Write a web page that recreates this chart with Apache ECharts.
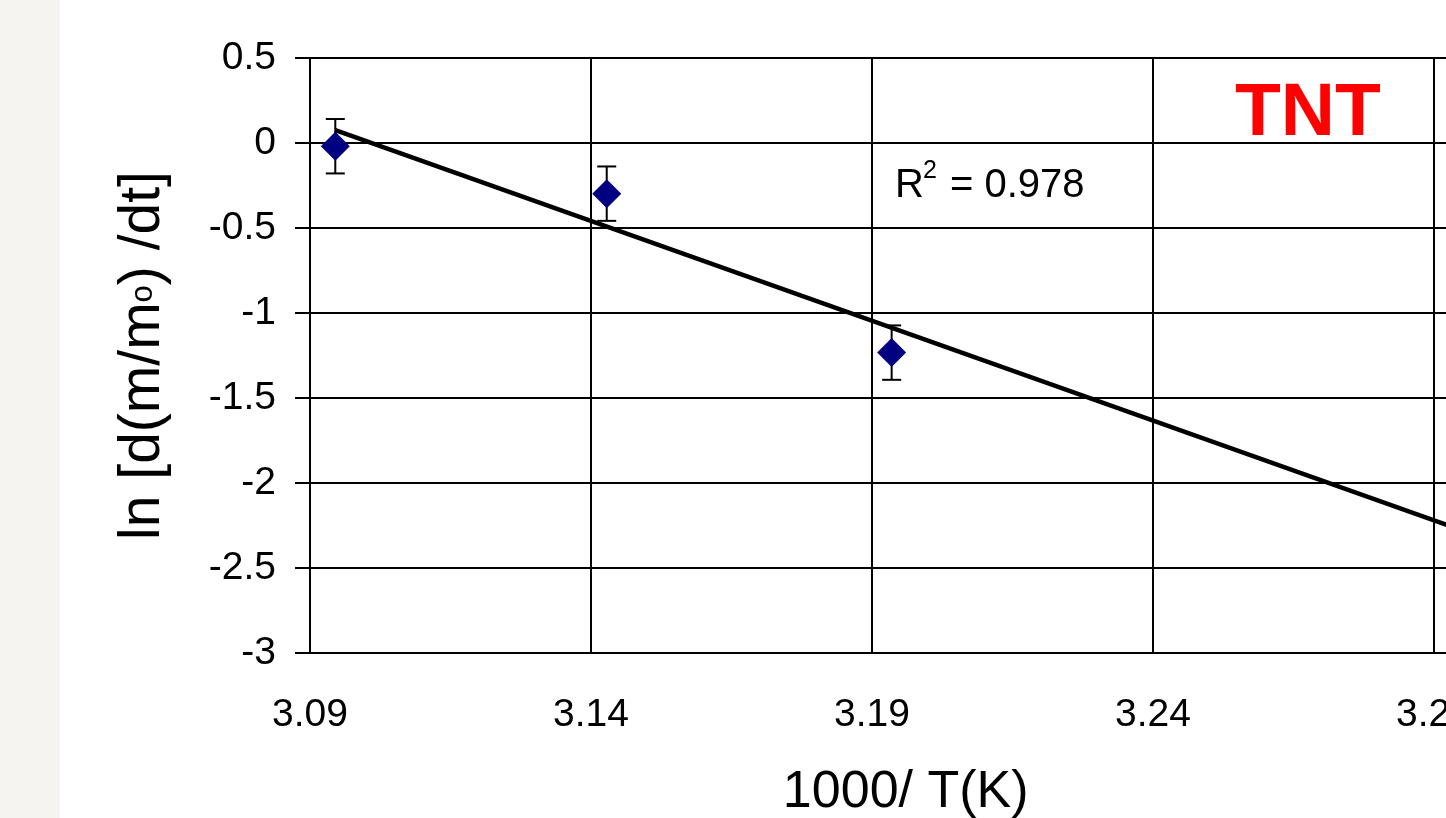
<!DOCTYPE html>
<html>
<head>
<meta charset="utf-8">
<script src="https://cdn.jsdelivr.net/npm/echarts@6/dist/echarts.min.js"></script>
<style>
  html, body { margin: 0; padding: 0; background: #ffffff; }
  #chart { width: 1446px; height: 818px; }
</style>
</head>
<body>
<div id="chart"></div>
<script>
// ---- data ----
const xVals = [3.0945, 3.1428, 3.1935];      // 1000/T(K)
const yVals = [-0.019, -0.298, -1.233];      // ln[d(m/mo)/dt]
const errVals = [0.16, 0.16, 0.16];          // error bar half-heights
const trendX = [3.0945, 3.302];              // linear trend line end points
const trendY = [0.076, -2.360];
const rSquaredText = '0.978';
const chartLabel = 'TNT';

const FONT = "'Liberation Sans', Arial, sans-serif";

const pointData = xVals.map((x, i) => [x, yVals[i]]);
const errData = xVals.map((x, i) => [x, yVals[i] - errVals[i], yVals[i] + errVals[i]]);
const trendData = trendX.map((x, i) => [x, trendY[i]]);

const chart = echarts.init(document.getElementById('chart'), null, { renderer: 'canvas' });

function renderErr(params, api) {
  const x = api.value(0);
  const pLo = api.coord([x, api.value(1)]);
  const pHi = api.coord([x, api.value(2)]);
  const hw = 9.5;
  const st = { stroke: '#000', lineWidth: 2 };
  return {
    type: 'group',
    children: [
      { type: 'line', shape: { x1: pLo[0], y1: pLo[1], x2: pHi[0], y2: pHi[1] }, style: st },
      { type: 'line', shape: { x1: pLo[0] - hw, y1: pLo[1], x2: pLo[0] + hw, y2: pLo[1] }, style: st },
      { type: 'line', shape: { x1: pHi[0] - hw, y1: pHi[1], x2: pHi[0] + hw, y2: pHi[1] }, style: st }
    ]
  };
}

const option = {
  animation: false,
  backgroundColor: '#ffffff',
  textStyle: { fontFamily: FONT },
  grid: { left: 310, top: 58, width: 1191.4, height: 595, containLabel: false, outerBoundsMode: 'none' },
  xAxis: {
    type: 'value',
    min: 3.09,
    max: 3.302,
    interval: 0.05,
    name: '1000/ T(K)',
    nameLocation: 'middle',
    nameGap: 114,
    nameTextStyle: { fontSize: 52, color: '#000', fontFamily: FONT },
    axisLine: { show: true, lineStyle: { color: '#000', width: 2 } },
    axisTick: { show: true, length: 14, lineStyle: { color: '#000', width: 2 } },
    axisLabel: {
      show: true, margin: 43, fontSize: 39, color: '#000', fontFamily: FONT,
      showMaxLabel: false,
      formatter: v => (Math.abs(v - 3.302) < 1e-6 ? '' : v.toFixed(2))
    },
    splitLine: { show: true, lineStyle: { color: '#000', width: 2 } }
  },
  yAxis: {
    type: 'value',
    min: -3,
    max: 0.5,
    interval: 0.5,
    name: '{a|ln [d(m/m}{s|o}{a|) /dt]}',
    nameLocation: 'middle',
    nameRotate: 90,
    nameGap: 138,
    nameTextStyle: {
      color: '#000', fontFamily: FONT, fontSize: 57,
      rich: {
        a: { fontSize: 57, color: '#000', fontFamily: FONT },
        s: { fontSize: 31, color: '#000', fontFamily: FONT, verticalAlign: 'middle' }
      }
    },
    axisLine: { show: true, lineStyle: { color: '#000', width: 2 } },
    axisTick: { show: true, length: 15, lineStyle: { color: '#000', width: 2 } },
    axisLabel: { show: true, margin: 34, fontSize: 39, color: '#000', fontFamily: FONT },
    splitLine: { show: true, lineStyle: { color: '#000', width: 2 } }
  },
  graphic: [
    { type: 'rect', left: 0, top: 0, shape: { x: 0, y: 0, width: 60, height: 818 }, style: { fill: '#f5f4f0' }, z: -10, silent: true },
    { type: 'text', x: 1235, y: 114, style: { text: chartLabel, fill: '#ff0000', font: "bold 75px 'Liberation Sans', Arial, sans-serif", textAlign: 'left', textVerticalAlign: 'middle' }, z: 100 },
    { type: 'text', x: 895, y: 186, style: { text: 'R', fill: '#000', font: "40px 'Liberation Sans', Arial, sans-serif", textAlign: 'left', textVerticalAlign: 'middle' }, z: 100 },
    { type: 'text', x: 923, y: 171, style: { text: '2', fill: '#000', font: "25px 'Liberation Sans', Arial, sans-serif", textAlign: 'left', textVerticalAlign: 'middle' }, z: 100 },
    { type: 'text', x: 950, y: 186, style: { text: '= ' + rSquaredText, fill: '#000', font: "40px 'Liberation Sans', Arial, sans-serif", textAlign: 'left', textVerticalAlign: 'middle' }, z: 100 }
  ],
  series: [
    {
      type: 'custom',
      name: 'error',
      renderItem: renderErr,
      data: errData,
      encode: { x: 0, y: [1, 2] },
      z: 2,
      silent: true
    },
    {
      type: 'scatter',
      name: 'data',
      data: pointData,
      symbol: 'diamond',
      symbolSize: 29,
      itemStyle: { color: '#000080', opacity: 1 },
      z: 3
    },
    {
      type: 'line',
      name: 'trend',
      data: trendData,
      showSymbol: false,
      symbol: 'none',
      lineStyle: { color: '#000', width: 4.5 },
      z: 4
    }
  ]
};

chart.setOption(option);
</script>
</body>
</html>
